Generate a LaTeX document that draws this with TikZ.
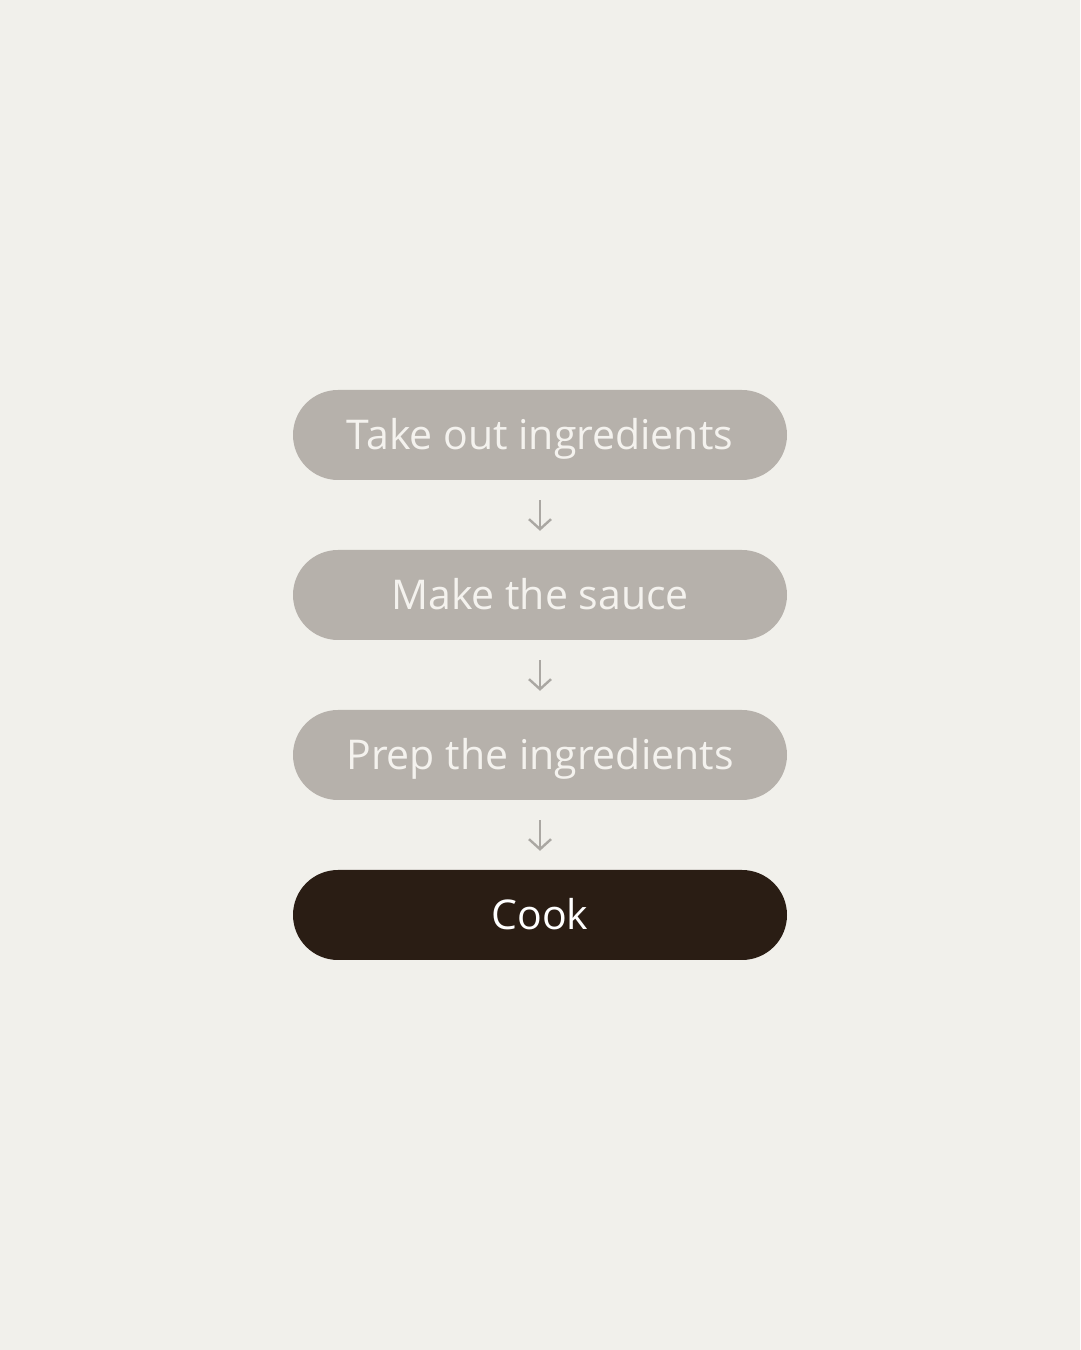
\documentclass[tikz,border=0pt]{standalone}
\usepackage{fontspec}
\setmainfont{Open Sans}
\usetikzlibrary{arrows.meta}
\definecolor{bg}{HTML}{F1F0EB}
\definecolor{pill}{HTML}{B6B1AB}
\definecolor{pilltext}{HTML}{F4F2EE}
\definecolor{dark}{HTML}{2A1D14}
\definecolor{arrowc}{HTML}{AAA7A2}
\begin{document}
\begin{tikzpicture}[x=1pt,y=1pt,
  stepbox/.style={rounded corners=45pt, minimum width=494pt, minimum height=90pt, inner sep=0pt, font=\fontsize{41}{48}\selectfont, text height=29.5pt, text depth=0pt, anchor=center},
  lightbox/.style={stepbox, fill=pill, text=pilltext},
  darkbox/.style={stepbox, fill=dark, text=white},
  flow/.style={draw=arrowc, line width=2.4pt, shorten <=20pt, shorten >=19pt, -{Straight Barb[length=10pt,width=22pt,line width=2.4pt]}}
]
\fill[bg] (0,0) rectangle (1080,1350);
\useasboundingbox (0,0) rectangle (1080,1350);
\node[lightbox] (a) at (540,915) {Take out ingredients};
\node[lightbox] (b) at (540,755) {Make the sauce};
\node[lightbox] (c) at (540,595) {Prep the ingredients};
\node[darkbox] (d) at (540,435) {Cook};
\draw[flow] (a) -- (b);
\draw[flow] (b) -- (c);
\draw[flow] (c) -- (d);
\end{tikzpicture}
\end{document}
